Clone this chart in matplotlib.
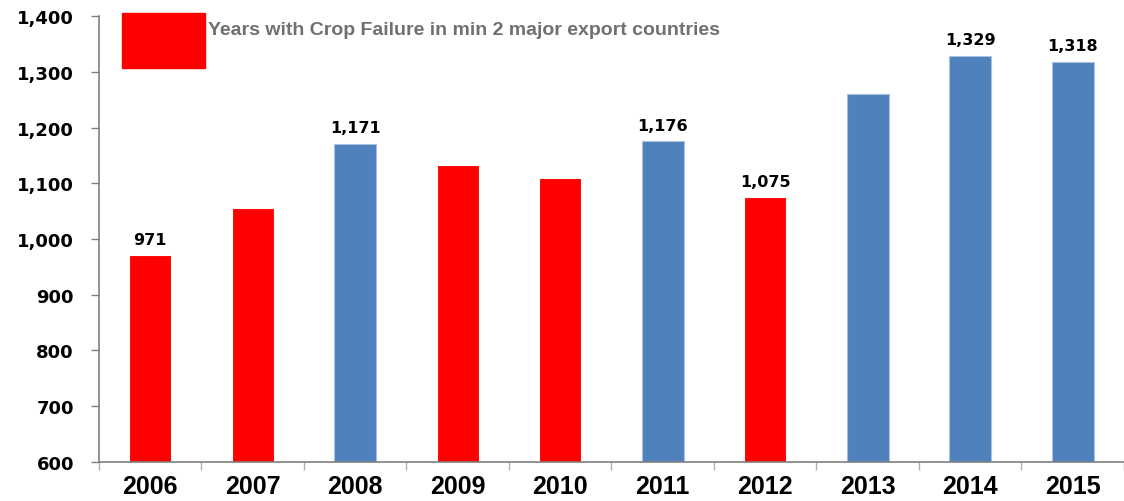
import matplotlib
matplotlib.use('agg')

import matplotlib.pyplot as plt
import matplotlib.ticker as ticker
import matplotlib.patches as mpatches
import numpy as np

years = ['2006', '2007', '2008', '2009', '2010', '2011', '2012', '2013', '2014', '2015']
values = [971, 1055, 1171, 1133, 1109, 1176, 1075, 1260, 1329, 1318]
crop_failure = [True, True, False, True, True, False, True, False, False, False]
labelled = ['2006', '2008', '2011', '2012', '2014', '2015']
legend_text = 'Years with Crop Failure in min 2 major export countries'

RED = '#FF0000'
BLUE = '#4F81BD'
GREY = '#808080'


def main():
    fig = plt.figure(figsize=(11.24, 5.02), dpi=100)
    ax = fig.add_axes([0.088, 0.078, 0.912, 0.888])

    x = np.arange(len(years))
    colors = [RED if c else BLUE for c in crop_failure]
    ax.bar(x, values, width=0.41, color=colors,
           edgecolor=['#ffffff' if c else '#a9c1e0' for c in crop_failure],
           linewidth=0.8, zorder=2)

    ax.set_ylim(600, 1400)
    ax.set_xlim(-0.5, 9.5)

    # data labels on selected bars
    for xi, yr, v in zip(x, years, values):
        if yr in labelled:
            ax.annotate(f'{v:,}', (xi, v), xytext=(0, 6), textcoords='offset points',
                        ha='center', va='bottom', fontsize=11.5, fontweight='bold',
                        family='DejaVu Sans', color='black')

    # axes styling
    for s in ['top', 'right']:
        ax.spines[s].set_visible(False)
    for s in ['left', 'bottom']:
        ax.spines[s].set_color(GREY)
        ax.spines[s].set_linewidth(1.2)

    ax.yaxis.set_major_locator(ticker.MultipleLocator(100))
    ax.yaxis.set_major_formatter(ticker.FuncFormatter(lambda v, p: f'{int(v):,}'))
    ax.tick_params('y', direction='out', length=6, width=1, color=GREY,
                   labelsize=13, pad=12)
    for lab in ax.get_yticklabels():
        lab.set_fontweight('bold')
        lab.set_family('DejaVu Sans')

    ax.xaxis.set_major_locator(ticker.FixedLocator(x))
    ax.xaxis.set_minor_locator(ticker.FixedLocator(np.arange(-0.5, 10, 1.0)))
    ax.set_xticklabels(years)
    ax.tick_params('x', which='major', length=0, pad=9)
    ax.tick_params('x', which='minor', direction='out', length=6, width=1, color='#b0b0b0')
    for lab in ax.get_xticklabels():
        lab.set_fontweight('bold')
        lab.set_family(['Liberation Sans', 'DejaVu Sans'])
        lab.set_fontsize(18)

    # legend-like box
    fig.patches.append(mpatches.Rectangle((122 / 1124, 1 - 69 / 502), 83 / 1124, 55 / 502,
                                          transform=fig.transFigure, color=RED,
                                          figure=fig))
    fig.text(208 / 1124, 1 - 31 / 502, legend_text, fontsize=14, fontweight='bold',
             family=['Liberation Sans', 'DejaVu Sans'], color='#707070',
             ha='left', va='center')

    fig.savefig('out.png', dpi=100)


if __name__ == "__main__":
    main()
